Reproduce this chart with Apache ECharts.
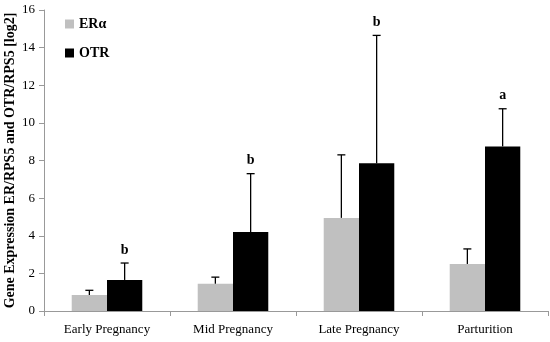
<!DOCTYPE html>
<html>
<head>
<meta charset="utf-8">
<script src="https://cdn.jsdelivr.net/npm/echarts@6/dist/echarts.min.js"></script>
<style>
  html, body { margin: 0; padding: 0; background: #fff; }
  #chart { width: 550px; height: 342px; }
</style>
</head>
<body>
<div id="chart"></div>
<script type="text/javascript">
	var categories = ['Early Pregnancy', 'Mid Pregnancy', 'Late Pregnancy', 'Parturition'];
	var erValues = [0.85, 1.45, 4.95, 2.5];
	var erErrTop = [1.1, 1.8, 8.3, 3.3];
	var otrValues = [1.65, 4.2, 7.85, 8.75];
	var otrErrTop = [2.55, 7.3, 14.65, 10.75];
	var otrLetters = ['b', 'b', 'b', 'a'];
	var yTicks = [0, 2, 4, 6, 8, 10, 12, 14, 16];

	var serif = 'Liberation Serif';
	var catGap = 0.44;

	// error bar drawn on the left (-1) or right (+1) bar of a category
	function errorBar(side, letters) {
		return function (params, api) {
			var idx = api.value(0);
			var base = api.coord([idx, api.value(1)]);
			var top = api.coord([idx, api.value(2)]);
			var band = api.size([1, 0])[0];
			var barW = band * (1 - catGap) / 2;
			var x = base[0] + side * barW / 2;
			var children = [
				{ type: 'line', shape: { x1: x, y1: base[1], x2: x, y2: top[1] }, style: { stroke: '#000', lineWidth: 1.3 } },
				{ type: 'line', shape: { x1: x - 4, y1: top[1], x2: x + 4, y2: top[1] }, style: { stroke: '#000', lineWidth: 1.3 } }
			];
			if (letters && letters[idx]) {
				children.push({
					type: 'text',
					style: { text: letters[idx], x: x, y: top[1] - 13, align: 'center', verticalAlign: 'middle',
						font: 'bold 14px "' + serif + '"', fill: '#000' }
				});
			}
			return { type: 'group', children: children };
		};
	}

	var chart = echarts.init(document.getElementById('chart'));
	var option = {
		animation: false,
		textStyle: { fontFamily: serif },
		grid: { left: 44, right: 2, top: 10, bottom: 31, outerBoundsMode: 'none' },
		legend: {
			data: ['ERα', 'OTR'],
			orient: 'vertical',
			left: 60,
			top: 12,
			itemWidth: 9,
			itemHeight: 9,
			itemGap: 15,
			icon: 'rect',
			textStyle: { fontFamily: serif, fontWeight: 'bold', fontSize: 14, color: '#000' }
		},
		xAxis: {
			type: 'category',
			data: categories,
			axisLine: { lineStyle: { color: '#999' } },
			axisTick: { show: true, length: 5, lineStyle: { color: '#999' } },
			axisLabel: { color: '#000', fontSize: 13, fontFamily: serif, margin: 12 }
		},
		yAxis: {
			type: 'value',
			min: 0,
			max: 16,
			interval: 2,
			name: 'Gene Expression ER/RPS5 and OTR/RPS5 [log2]',
			nameLocation: 'middle',
			nameGap: 27,
			nameMoveOverlap: false,
			nameTextStyle: { fontFamily: serif, fontWeight: 'bold', fontSize: 14, color: '#000' },
			axisLine: { show: true, lineStyle: { color: '#999' } },
			axisTick: { show: true, length: 5, inside: false, lineStyle: { color: '#999' } },
			axisLabel: {
				color: '#000', fontSize: 13, fontFamily: serif, margin: 9,
				formatter: function (v) { return yTicks.indexOf(v) >= 0 ? String(v) : ''; }
			},
			splitLine: { show: false }
		},
		series: [
			{
				name: 'ERα',
				type: 'bar',
				data: erValues,
				barGap: '0%',
				barCategoryGap: (catGap * 100) + '%',
				itemStyle: { color: '#c0c0c0' }
			},
			{
				name: 'OTR',
				type: 'bar',
				data: otrValues,
				barGap: '0%',
				barCategoryGap: (catGap * 100) + '%',
				itemStyle: { color: '#000' }
			},
			{
				type: 'custom',
				renderItem: errorBar(-1, null),
				data: erValues.map(function (v, i) { return [i, v, erErrTop[i]]; }),
				z: 5
			},
			{
				type: 'custom',
				renderItem: errorBar(1, otrLetters),
				data: otrValues.map(function (v, i) { return [i, v, otrErrTop[i]]; }),
				z: 5
			}
		]
	};
	chart.setOption(option);
</script>
</body>
</html>
